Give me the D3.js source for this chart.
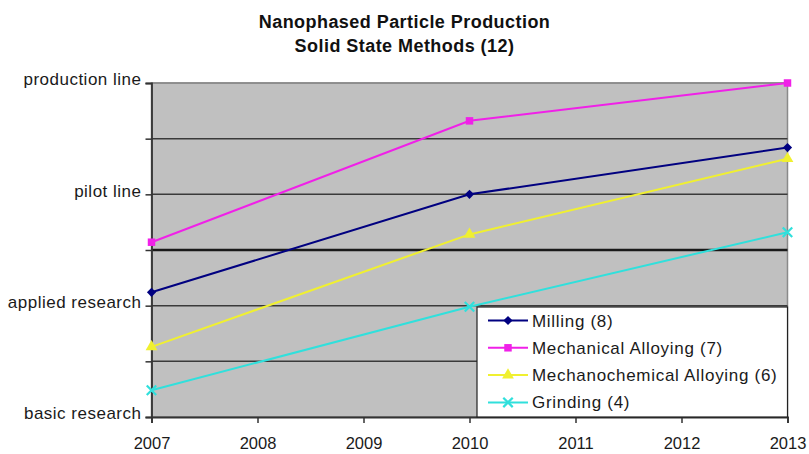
<!DOCTYPE html>
<html>
<head>
<meta charset="utf-8">
<script src="https://cdn.jsdelivr.net/npm/d3@7"></script>
<style>
  body { margin: 0; background: #fff; }
  svg { display: block; font-family: "Liberation Sans", Arial, sans-serif; }
</style>
</head>
<body>
<svg id="chart" width="809" height="454"></svg>
<script>
// data
const years = [2007, 2010, 2013];
const yearTicks = [2007, 2008, 2009, 2010, 2011, 2012, 2013];
const stages = ["basic research", "applied research", "pilot line", "production line"];
const stageTicks = [0, 0.5, 1, 1.5, 2, 2.5, 3];

const milling = [1.12, 2.0, 2.42];
const mechAlloying = [1.57, 2.66, 3.0];
const mechChem = [0.63, 1.64, 2.32];
const grinding = [0.24, 0.99, 1.66];

const seriesNames = ["Milling (8)", "Mechanical Alloying (7)", "Mechanochemical Alloying (6)", "Grinding (4)"];
const seriesValues = [milling, mechAlloying, mechChem, grinding];
const seriesColors = ["#000080", "#f020e8", "#f0f030", "#30e0dc"];
const seriesSymbols = ["diamond", "square", "triangle", "x"];

const margin = {top: 83, right: 21.5, bottom: 37, left: 151.5};
const width = 809 - margin.left - margin.right;
const height = 454 - margin.top - margin.bottom;

const svg = d3.select("#chart");

const x = d3.scaleLinear().domain([2007, 2013]).range([margin.left, margin.left + width]);
const y = d3.scaleLinear().domain([0, 3]).range([margin.top + height, margin.top]);

// title
const title = svg.append("g")
    .attr("font-weight", "bold")
    .attr("font-size", 18)
    .attr("letter-spacing", 0.45)
    .attr("text-anchor", "middle")
    .attr("fill", "#111");
title.append("text").attr("x", 404.5).attr("y", 28).text("Nanophased Particle Production");
title.append("text").attr("x", 404.5).attr("y", 52).text("Solid State Methods (12)");

// plot area
svg.append("rect")
    .attr("x", margin.left)
    .attr("y", margin.top)
    .attr("width", width)
    .attr("height", height)
    .attr("fill", "#c0c0c0")
    .attr("stroke", "#8a8a8a")
    .attr("stroke-width", 1.5);

svg.append("g")
    .selectAll("line")
    .data(stageTicks.slice(1))
    .enter()
    .append("line")
    .attr("x1", margin.left)
    .attr("x2", margin.left + width)
    .attr("y1", d => y(d))
    .attr("y2", d => y(d))
    .attr("stroke", d => d === 1.5 ? "#1a1a1a" : (d === 3 ? "#8a8a8a" : "#3a3a3a"))
    .attr("stroke-width", d => d === 1.5 ? 2.6 : 1.5);

// axes
const yAxis = svg.append("g")
    .attr("transform", `translate(${margin.left},0)`)
    .call(d3.axisLeft(y)
        .tickValues(stageTicks)
        .tickFormat(d => Number.isInteger(d) ? stages[d] : "")
        .tickSize(6)
        .tickPadding(4));

const xAxis = svg.append("g")
    .attr("transform", `translate(0,${margin.top + height})`)
    .call(d3.axisBottom(x)
        .tickValues(yearTicks)
        .tickFormat(d3.format("d"))
        .tickSize(6)
        .tickPadding(14));

[yAxis, xAxis].forEach(ax => {
    ax.select(".domain").attr("stroke", "#333").attr("stroke-width", 1.8);
    ax.selectAll(".tick line").attr("stroke", "#333").attr("stroke-width", 1.5);
    ax.selectAll(".tick text")
        .attr("font-family", "'Liberation Sans', Arial, sans-serif")
        .attr("font-size", 17)
        .attr("fill", "#1a1a1a");
});
yAxis.selectAll(".tick text")
    .attr("dy", "0.1em")
    .attr("letter-spacing", 0.5);
xAxis.selectAll(".tick text").attr("font-size", 16.5);

// series
const line = d3.line()
    .x((d, i) => x(years[i]))
    .y(d => y(d));

function symbolPath(kind) {
    if (kind === "diamond") return d3.symbol(d3.symbolSquare, 42)();
    if (kind === "square") return d3.symbol(d3.symbolSquare, 56)();
    if (kind === "triangle") return d3.symbol(d3.symbolTriangle, 60)();
    return d3.symbol(d3.symbolX, 60)();
}

function drawMarker(g, kind, color, cx, cy) {
    const p = g.append("path")
        .attr("d", symbolPath(kind))
        .attr("transform", `translate(${cx},${cy})` + (kind === "diamond" ? " rotate(45)" : ""));
    if (kind === "x") {
        p.attr("fill", "none").attr("stroke", color).attr("stroke-width", 2.2);
    } else {
        p.attr("fill", color);
    }
}

seriesValues.forEach((vals, s) => {
    const g = svg.append("g");
    g.append("path")
        .datum(vals)
        .attr("d", line)
        .attr("fill", "none")
        .attr("stroke", seriesColors[s])
        .attr("stroke-width", 2);
    vals.forEach((v, i) => drawMarker(g, seriesSymbols[s], seriesColors[s], x(years[i]), y(v)));
});

// legend
const legendX = 477, legendY = 307;
const legend = svg.append("g");
legend.append("rect")
    .attr("x", legendX)
    .attr("y", legendY)
    .attr("width", margin.left + width - legendX)
    .attr("height", margin.top + height - legendY)
    .attr("fill", "#fff")
    .attr("stroke", "#222")
    .attr("stroke-width", 1.2);

seriesNames.forEach((name, s) => {
    const cy = legendY + 13.5 + s * 27.3;
    legend.append("line")
        .attr("x1", legendX + 11)
        .attr("x2", legendX + 51)
        .attr("y1", cy)
        .attr("y2", cy)
        .attr("stroke", seriesColors[s])
        .attr("stroke-width", 2);
    drawMarker(legend, seriesSymbols[s], seriesColors[s], legendX + 31, cy);
    legend.append("text")
        .attr("x", legendX + 55)
        .attr("y", cy + 6)
        .attr("font-size", 17)
        .attr("letter-spacing", 0.7)
        .attr("fill", "#1a1a1a")
        .text(name);
});
</script>
</body>
</html>
